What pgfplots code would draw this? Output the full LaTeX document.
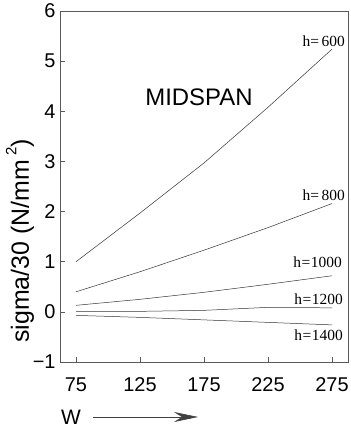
\documentclass[border=0pt]{standalone}
\usepackage{fontspec}
\setmainfont{Liberation Sans}
\newfontfamily\timesf{Liberation Serif}
\usepackage{pgfplots}
\pgfplotsset{compat=1.18}
\usetikzlibrary{arrows.meta}
\begin{document}
\begin{tikzpicture}
\begin{axis}[
  at={(60bp,68bp)}, anchor=south west,
  width=288bp, height=351bp, scale only axis,
  xmin=62.5, xmax=287.5, ymin=-1, ymax=6,
  xtick={75,125,175,225,275},
  ytick={-1,0,1,2,3,4,5,6},
  yticklabels={−1,0,1,2,3,4,5,6},
  tick pos=left, tick align=inside,
  major tick length=5bp,
  axis line style={black!65, line width=0.6pt},
  tick style={black!65, line width=0.5pt},
  ticklabel style={font=\fontsize{20}{20}\selectfont},
  /pgf/number format/assume math mode=true,
  xticklabel style={yshift=-12bp},
  yticklabel style={xshift=-1bp},
  clip=false,
]
\addplot[black!80, line width=0.5pt] coordinates {(75,1.0) (125,1.97) (175,2.97) (225,4.08) (275,5.24)};
\addplot[black!80, line width=0.5pt] coordinates {(75,0.40) (125,0.80) (175,1.23) (225,1.68) (275,2.16)};
\addplot[black!80, line width=0.5pt] coordinates {(75,0.13) (125,0.25) (175,0.39) (225,0.55) (275,0.72)};
\addplot[black!80, line width=0.5pt] coordinates {(75,0.01) (125,0.01) (175,0.03) (225,0.09) (275,0.08)};
\addplot[black!80, line width=0.5pt] coordinates {(75,-0.07) (125,-0.11) (175,-0.16) (225,-0.21) (275,-0.26)};
\end{axis}
% texts in picture coordinates (1bp = 1px of the reference, origin bottom-left)
\node[font=\fontsize{24}{24}\selectfont] at (199bp,333bp) {MIDSPAN};
\node[font=\timesf\fontsize{15.5}{15.5}\selectfont, anchor=east, inner sep=0pt] at (345bp,389bp) {h=\,600};
\node[font=\timesf\fontsize{15.5}{15.5}\selectfont, anchor=east, inner sep=0pt] at (345bp,235bp) {h=\,800};
\node[font=\timesf\fontsize{15.5}{15.5}\selectfont, anchor=east, inner sep=0pt] at (342bp,168bp) {h\kern0.5pt=\kern0.5pt1000};
\node[font=\timesf\fontsize{15.5}{15.5}\selectfont, anchor=east, inner sep=0pt] at (343bp,131bp) {h\kern0.5pt=\kern0.5pt1200};
\node[font=\timesf\fontsize{15.5}{15.5}\selectfont, anchor=east, inner sep=0pt] at (343bp,95bp) {h\kern0.5pt=\kern0.5pt1400};
\node[font=\fontsize{25}{25}\selectfont, rotate=90] at (20bp,189bp) {sigma/30 (N/mm\,\raisebox{0.5em}{\fontsize{15}{15}\selectfont 2})};
\node[font=\fontsize{21}{21}\selectfont, anchor=base] at (71bp,6bp) {W};
\draw[black!75, line width=0.6pt, -{Stealth[length=24bp,width=10bp,inset=8bp]}] (93bp,13bp) -- (198bp,13bp);
\pgfresetboundingbox
\path[use as bounding box] (0,0) rectangle (351bp,430bp);
\end{tikzpicture}
\end{document}
